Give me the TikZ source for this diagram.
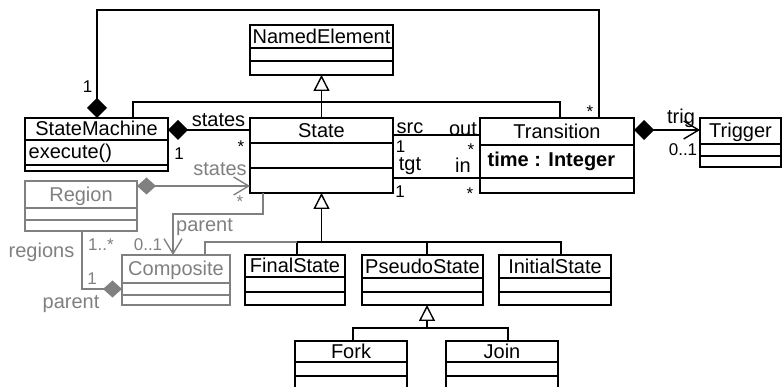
\documentclass[tikz,border=0pt]{standalone}
\usepackage{fontspec}
\setmainfont{Liberation Sans}
\usetikzlibrary{arrows.meta,calc}
\definecolor{umlgray}{RGB}{128,128,128}
\newcommand\umlfs[1]{\fontsize{#1}{#1}\selectfont}
\newcommand\umlclass[9]{%
  \node[box, draw=#9, minimum width={#4pt-#2pt}, minimum height={#5pt-#3pt}, anchor=north west] (#1) at (#2,#3) {};
  \draw[#9] (#2,#6) -- (#4,#6) (#2,#7) -- (#4,#7);
  \node[ttl, text=#9, anchor=base] (#1-title) at ({(#2+#4)/2},{(#3+#6)/2+7}) {#8};}
\begin{document}
\begin{tikzpicture}[x=1pt,y=-1pt,line width=1.4pt,
  box/.style={rectangle, draw, inner sep=0pt, outer sep=0pt},
  ttl/.style={inner sep=0pt, font=\umlfs{20}},
  lbl/.style={inner sep=0pt, font=\umlfs{20}, anchor=north},
  mul/.style={inner sep=0pt, font=\umlfs{17}, anchor=north},
  gen/.style={-{Triangle[open, length=16pt, width=16pt, fill=white]}},
  comp/.style={{Diamond[length=20pt, width=20pt]}-},
  gcomp/.style={{Diamond[length=19pt, width=17pt]}-},
  nav/.style={-{Straight Barb[length=15pt, width=18pt]}},
  compnav/.style={{Diamond[length=20pt, width=20pt]}-{Straight Barb[length=15pt, width=18pt]}},
  gcompnav/.style={{Diamond[length=19pt, width=17pt]}-{Straight Barb[length=15pt, width=18pt]}}]
\useasboundingbox (0,0) rectangle (782,387);
\clip (0,0) rectangle (782,387);
% classes
\umlclass{NamedElement}{250}{25}{393}{75}{48}{61}{NamedElement}{black}
\umlclass{StateMachine}{25}{118}{168}{171}{140}{165}{StateMachine}{black}
\node[ttl, anchor=base west] (sm-op) at (28,159) {execute()};
\umlclass{State}{250}{118}{393}{193}{143}{168}{State}{black}
\umlclass{Transition}{480}{118}{634}{193}{145}{178}{Transition}{black}
\node[ttl, anchor=base west, font=\umlfs{20}\bfseries] (tr-attr) at (487,167) {time : Integer};
\umlclass{Trigger}{700}{118}{781}{167}{144}{156}{Trigger}{black}
\umlclass{Region}{25}{181}{137}{231}{208}{220}{Region}{umlgray}
\umlclass{Composite}{122}{255}{230}{305}{283}{295}{Composite}{umlgray}
\umlclass{FinalState}{245}{255}{345}{305}{277}{292}{FinalState}{black}
\umlclass{PseudoState}{362}{255}{483}{305}{278}{292}{PseudoState}{black}
\umlclass{InitialState}{499}{255}{611}{305}{278}{292}{InitialState}{black}
\umlclass{Fork}{295}{341}{407}{400}{362}{376}{Fork}{black}
\umlclass{Join}{446}{341}{558}{400}{362}{376}{Join}{black}
% generalizations to NamedElement
\draw ($(StateMachine.north west)+(108,0)$) |- ($(Transition.north west)+(80,-16)$) -- ($(Transition.north west)+(80,0)$);
\draw[gen] (State.north) -- (NamedElement.south);
% StateMachine -- Transition composition (top)
\draw[comp] ($(StateMachine.north west)+(72,0)$) |- ($(Transition.north west)+(119,-108)$) -- ($(Transition.north west)+(119,0)$);
% StateMachine -- State
\draw[comp] ($(StateMachine.north east)+(0,12)$) -- ($(State.north west)+(0,12)$);
% Region -- State
\draw[umlgray, gcompnav] ($(Region.north east)+(0,5)$) -- ($(State.north west)+(0,68)$);
% State -> Composite parent
\draw[umlgray, nav] ($(State.south west)+(13,0)$) |- ($(Composite.north west)+(51,-41)$) -- ($(Composite.north west)+(51,0)$);
% Composite -- Region
\draw[umlgray, gcomp] ($(Composite.north west)+(0,34)$) -| ($(Region.south west)+(57,0)$);
% generalizations to State
\draw[gen] ($(State.south)+(0,49)$) -- (State.south);
\draw ($(FinalState.north west)+(52,0)$) |- ($(InitialState.north west)+(62,-13)$) -- ($(InitialState.north west)+(62,0)$);
\draw ($(PseudoState.north west)+(65,0)$) -- ($(PseudoState.north west)+(65,-13)$);
\draw[umlgray] ($(Composite.north west)+(83,0)$) |- ($(FinalState.north west)+(52,-13)$);
% generalizations to PseudoState
\draw[gen] ($(PseudoState.south west)+(65,23)$) -- ($(PseudoState.south west)+(65,0)$);
\draw ($(Fork.north west)+(58,0)$) |- ($(Join.north west)+(62,-13)$) -- ($(Join.north west)+(62,0)$);
% State -- Transition
\draw ($(State.north east)+(0,17)$) -- ($(Transition.north west)+(0,17)$);
\draw ($(State.north east)+(0,60)$) -- ($(Transition.north west)+(0,60)$);
% Transition -- Trigger
\draw[compnav] ($(Transition.north east)+(0,12)$) -- ($(Trigger.north west)+(0,12)$);
% labels
\node[mul] (m1) at (87.5,80) {1};
\node[mul] (m2) at (590,105) {*};
\node[lbl] (l-states) at (218.5,113) {states};
\node[mul] (m3) at (241,140) {*};
\node[mul] (m4) at (179,147) {1};
\node[lbl, text=umlgray] (l-states2) at (220,162) {states};
\node[mul, text=umlgray] (m5) at (240,195) {*};
\node[lbl, text=umlgray] (l-parent) at (204.5,218) {parent};
\node[mul, text=umlgray] (m6) at (148,238) {0..1};
\node[lbl, text=umlgray, anchor=north east] (l-regions) at (75,242) {regions};
\node[mul, text=umlgray] (m7) at (101,238) {1..*};
\node[mul, text=umlgray] (m8) at (92,272) {1};
\node[lbl, text=umlgray] (l-parent2) at (71,295) {parent};
\node[lbl] (l-src) at (410,122) {src};
\node[lbl] (l-out) at (463,122) {out};
\node[mul] (m9) at (400.5,140) {1};
\node[mul] (m10) at (471,143) {*};
\node[lbl] (l-tgt) at (410,157) {tgt};
\node[lbl] (l-in) at (463,157) {in};
\node[mul] (m11) at (400,185) {1};
\node[mul] (m12) at (470,187) {*};
\node[lbl] (l-trig) at (681,108) {trig};
\node[mul] (m13) at (683,143) {0..1};
\end{tikzpicture}
\end{document}
